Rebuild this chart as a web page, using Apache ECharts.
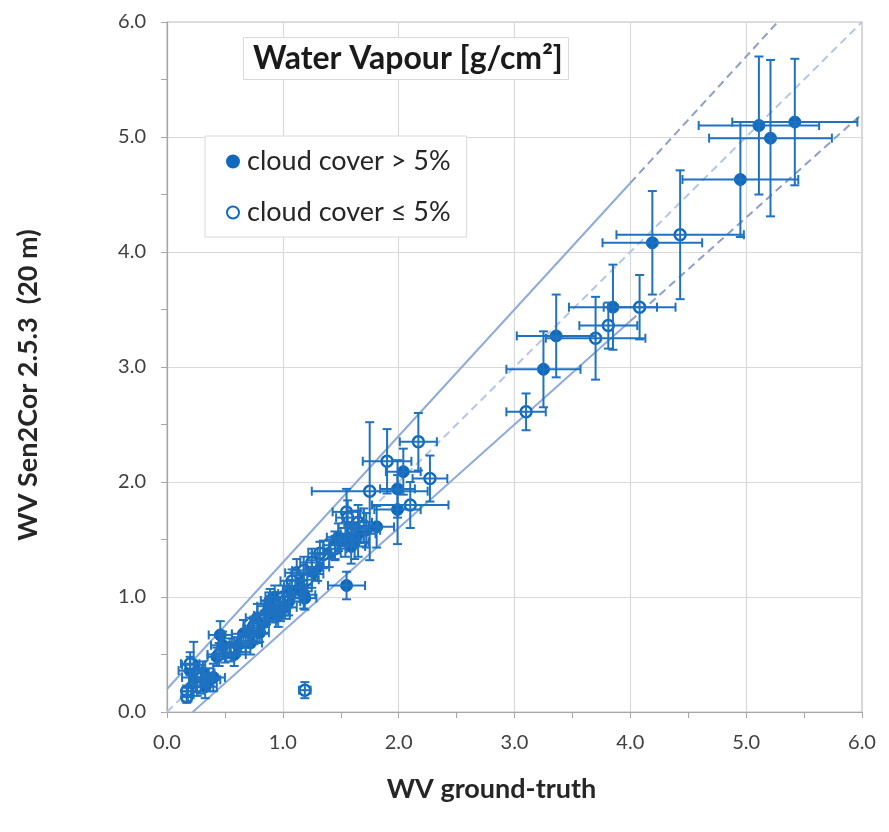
<!DOCTYPE html>
<html><head><meta charset="utf-8">
<script src="https://cdn.jsdelivr.net/npm/echarts@6/dist/echarts.min.js"></script>
<style>html,body{margin:0;padding:0;background:#fff}#c{width:889px;height:832px}</style>
</head><body><div id="c"></div>
<script>
// ---- data: [x, y, xErr, yErr] ----
const cloudyPoints = [
  [5.11,5.10,0.52,0.60],[5.42,5.13,0.54,0.55],[5.21,4.99,0.53,0.68],[4.95,4.63,0.50,0.50],
  [4.19,4.08,0.43,0.45],[3.85,3.52,0.38,0.37],[3.36,3.27,0.34,0.36],[3.25,2.98,0.32,0.33],
  [2.04,2.09,0.15,0.20],[1.99,1.94,0.15,0.25],[1.99,1.76,0.20,0.30],[1.81,1.61,0.15,0.18],
  [1.54,1.50,0.12,0.15],[1.59,1.44,0.12,0.15],[1.65,1.55,0.15,0.20],[1.72,1.58,0.12,0.15],
  [1.55,1.10,0.16,0.12],[1.18,1.02,0.10,0.12],[1.19,0.99,0.10,0.10],[1.06,1.03,0.10,0.12],
  [1.02,0.91,0.10,0.10],[0.98,0.89,0.08,0.10],[0.93,1.00,0.08,0.10],[0.89,0.97,0.08,0.10],
  [0.86,0.86,0.08,0.10],[0.92,0.86,0.08,0.08],[0.80,0.77,0.08,0.08],[0.74,0.73,0.08,0.08],
  [0.70,0.65,0.08,0.08],[0.64,0.60,0.08,0.08],[0.80,0.69,0.08,0.08],[0.54,0.56,0.08,0.08],
  [0.50,0.51,0.08,0.08],[0.60,0.57,0.08,0.08],[0.46,0.67,0.10,0.12],[0.43,0.48,0.08,0.08],
  [0.23,0.41,0.10,0.20],[0.31,0.34,0.10,0.10],[0.36,0.28,0.10,0.10],[0.29,0.26,0.10,0.10],
  [1.11,1.09,0.10,0.10],[1.45,1.45,0.10,0.12],
  [0.25,0.30,0.12,0.12],[0.33,0.22,0.10,0.10],[0.40,0.30,0.10,0.12],[0.20,0.36,0.10,0.12],
  [0.48,0.58,0.10,0.12],[0.58,0.50,0.10,0.10],[0.66,0.68,0.10,0.12],[0.72,0.60,0.10,0.10],
  [0.78,0.82,0.10,0.12],[0.84,0.78,0.10,0.10],[0.88,0.92,0.10,0.12],[0.96,0.84,0.10,0.10],
  [1.05,0.96,0.10,0.12],[1.15,1.08,0.10,0.12],[1.25,1.20,0.10,0.12],[1.30,1.26,0.10,0.12],
  [1.40,1.38,0.10,0.12],[1.48,1.52,0.10,0.12],[1.62,1.48,0.12,0.15],[0.18,0.15,0.05,0.06]
];
const clearPoints = [
  [4.43,4.15,0.55,0.56],[4.08,3.52,0.31,0.28],[3.81,3.36,0.25,0.20],[3.70,3.25,0.43,0.36],
  [3.10,2.61,0.17,0.16],[2.17,2.35,0.16,0.25],[1.90,2.18,0.21,0.28],[2.27,2.03,0.15,0.20],
  [1.75,1.92,0.50,0.60],[2.10,1.80,0.33,0.20],[1.55,1.74,0.12,0.20],[1.56,1.69,0.10,0.15],
  [1.65,1.65,0.12,0.15],[1.35,1.37,0.10,0.12],[1.32,1.38,0.10,0.10],[1.12,1.21,0.10,0.12],
  [1.18,1.23,0.10,0.12],[1.21,1.15,0.10,0.10],[1.19,0.19,0.05,0.07],[0.17,0.13,0.04,0.05],
  [0.17,0.18,0.04,0.05],[0.20,0.42,0.08,0.10],[0.95,0.92,0.08,0.08],[0.75,0.75,0.08,0.08],
  [0.55,0.52,0.08,0.08],[0.30,0.30,0.08,0.08],
  [0.26,0.22,0.08,0.08],[0.45,0.50,0.10,0.10],[0.68,0.62,0.10,0.10],[0.85,0.84,0.10,0.10],
  [1.00,1.00,0.10,0.10],[1.08,1.14,0.10,0.10],[1.25,1.30,0.10,0.12],[1.45,1.42,0.10,0.10],
  [1.60,1.60,0.12,0.15],[1.70,1.62,0.12,0.15]
];
// reference / tolerance lines
const oneToOne   = [[0,0],[6,6]];
const upperSolid = [[0,0.2],[4,4.6]];
const upperDash  = [[4,4.6],[5.2727,6]];
const lowerSolid = [[0.2222,0],[4,3.4]];
const lowerDash  = [[4,3.4],[6,5.2]];
const tickLabels = ['0.0','1.0','2.0','3.0','4.0','5.0','6.0'];

const seriesNames = ['cloud cover > 5%','cloud cover \u2264 5%'];
const FONT = 'Lato';
const BLUE = '#0f6abf';
const ERR = '#1f72c0';

function renderErr(params, api) {
  const x = api.value(0), y = api.value(1), ex = api.value(2), ey = api.value(3);
  const l = api.coord([x - ex, y]), r = api.coord([x + ex, y]);
  const t = api.coord([x, y + ey]), b = api.coord([x, y - ey]);
  const c = 4.5;
  const style = { stroke: ERR, lineWidth: 2 };
  const ln = (x1,y1,x2,y2) => ({ type:'line', shape:{x1,y1,x2,y2}, style });
  return { type:'group', children:[
    ln(l[0],l[1],r[0],r[1]), ln(l[0],l[1]-c,l[0],l[1]+c), ln(r[0],r[1]-c,r[0],r[1]+c),
    ln(t[0],t[1],b[0],b[1]), ln(t[0]-c,t[1],t[0]+c,t[1]), ln(b[0]-c,b[1],b[0]+c,b[1])
  ]};
}

const lineSeries = (data, color, dashed) => ({
  type:'line', data, symbol:'none', silent:true, z:1,
  lineStyle:{ color, width:2, type: dashed ? [8,5] : 'solid' }
});

const axisCommon = {
  min:0, max:6, interval:1,
  axisLine:{ show:true, lineStyle:{ color:'#a6a6a6', width:1.2 } },
  axisTick:{ show:true, inside:false, length:6, lineStyle:{ color:'#a6a6a6' } },
  minorTick:{ show:true, splitNumber:2, length:6, lineStyle:{ color:'#a6a6a6' } },
  splitLine:{ show:true, lineStyle:{ color:'#d9d9d9', width:1.2 } },
  axisLabel:{ fontFamily:FONT, fontSize:20, color:'#404040', margin:21,
    formatter: v => tickLabels[Math.round(v)] },
  nameLocation:'middle'
};

const chart = echarts.init(document.getElementById('c'));
chart.setOption({
  animation:false,
  backgroundColor:'#fff',
  grid:{ left:167, right:27, top:22, bottom:120, show:true, borderColor:'#bfbfbf', borderWidth:1.2 },
  title:{
    text:'Water Vapour [g/cm\u00B2]', left:243, top:37,
    padding:[6,6,5,10], borderColor:'#d9d9d9', borderWidth:1, backgroundColor:'#fff',
    textStyle:{ fontFamily:FONT, fontSize:32, fontWeight:'bold', color:'#1a1a1a' }
  },
  legend:{
    data:seriesNames, orient:'vertical', left:205, top:136,
    padding:[12,16,11,21], itemGap:24, itemWidth:12, itemHeight:12,
    borderColor:'#d9d9d9', borderWidth:1, backgroundColor:'#fff', selectedMode:false,
    textStyle:{ fontFamily:FONT, fontSize:27, color:'#262626', padding:[0,0,0,3] }
  },
  xAxis:Object.assign({}, axisCommon, { type:'value', name:'WV ground-truth', nameGap:64,
    nameTextStyle:{ fontFamily:FONT, fontSize:27, fontWeight:'bold', color:'#262626', padding:[0,46,0,0] } }),
  yAxis:Object.assign({}, axisCommon, { type:'value', name:'WV Sen2Cor 2.5.3  (20 m)', nameGap:125,
    nameTextStyle:{ fontFamily:FONT, fontSize:27, fontWeight:'bold', color:'#262626', padding:[0,36,0,0] } }),
  series:[
    lineSeries(oneToOne, '#b4c7e7', true),
    lineSeries(upperSolid, '#8faadc', false),
    lineSeries(upperDash, '#8e9fc9', true),
    lineSeries(lowerSolid, '#8faadc', false),
    lineSeries(lowerDash, '#8e9fc9', true),
    { name:seriesNames[0], type:'scatter', z:3, symbol:'circle', symbolSize:12,
      itemStyle:{ color:BLUE, borderColor:BLUE, borderWidth:1, opacity:1 },
      data: cloudyPoints.map(p => [p[0], p[1]]) },
    { name:seriesNames[1], type:'scatter', z:3, symbol:'circle', symbolSize:11,
      itemStyle:{ color:'#ffffff', borderColor:BLUE, borderWidth:2.5, opacity:1 },
      data: clearPoints.map(p => [p[0], p[1]]) },
    { type:'custom', z:4, silent:true, renderItem:renderErr, clip:true,
      encode:{ x:0, y:1 }, data: cloudyPoints },
    { type:'custom', z:4, silent:true, renderItem:renderErr, clip:true,
      encode:{ x:0, y:1 }, data: clearPoints }
  ]
});
</script>
</body></html>
